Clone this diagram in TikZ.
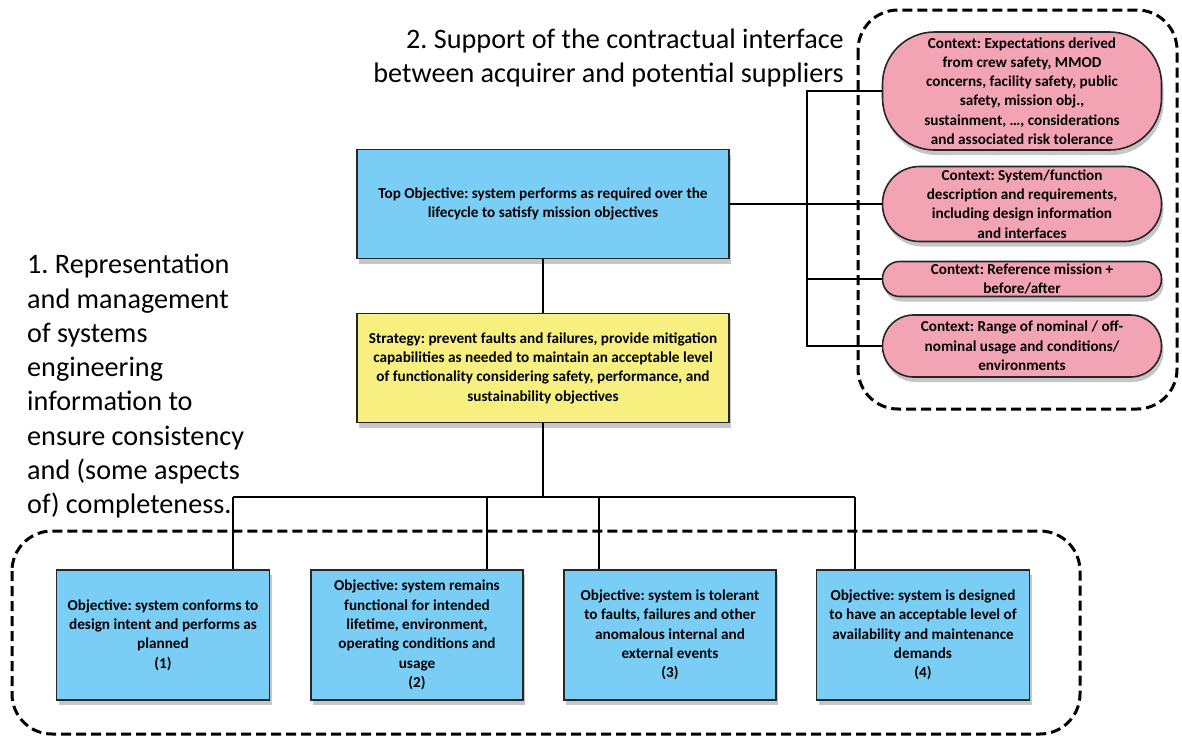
\documentclass[tikz,border=0pt]{standalone}
\usepackage{fontspec}
\setmainfont{Carlito}
\usetikzlibrary{shadows}
\frenchspacing

\definecolor{objblue}{RGB}{122,206,245}
\definecolor{stratyellow}{RGB}{247,239,128}
\definecolor{ctxpink}{RGB}{242,164,180}

\begin{document}
\begin{tikzpicture}[x=1pt,y=-1pt,
  goalbox/.style={draw=black!85,line width=1.6pt,fill=objblue,align=center,
    inner sep=2pt,font=\fontsize{15.2}{19.3}\selectfont\bfseries,
    drop shadow={opacity=0.45,shadow xshift=2pt,shadow yshift=-5pt}},
  ctxbox/.style={goalbox,fill=ctxpink,minimum width=279pt},
  link/.style={line width=1.3pt},
  group/.style={line width=3pt,dash pattern=on 10pt off 5pt,rounded corners=40pt},
  remark/.style={font=\fontsize{28.2}{34.3}\selectfont,inner sep=0pt}]

\useasboundingbox (0,0) rectangle (1182,736);

%\fill[gray!8] (0,0) rectangle (1182,10);

\draw[group] (858,10) rectangle (1177,409);
\draw[group] (12,531) rectangle (1080,734);

\node[goalbox,minimum width=372pt,minimum height=109pt] (top) at (543,204)
  {Top Objective: system performs as required over the\\lifecycle to satisfy mission objectives};
\node[goalbox,fill=stratyellow,minimum width=372pt,minimum height=109pt] (strat) at (543,368)
  {Strategy: prevent faults and failures, provide mitigation\\capabilities as needed to maintain an acceptable level\\of functionality considering safety, performance, and\\sustainability objectives};

\node[goalbox,minimum width=213pt,minimum height=130pt] (obj1) at (163,635)
  {Objective: system conforms to\\design intent and performs as\\planned\\(1)};
\node[goalbox,minimum width=212pt,minimum height=130pt] (obj2) at (417,635)
  {Objective: system remains\\functional for intended\\lifetime, environment,\\operating conditions and\\usage\\(2)};
\node[goalbox,minimum width=212pt,minimum height=130pt] (obj3) at (670,635)
  {Objective: system is tolerant\\to faults, failures and other\\anomalous internal and\\external events\\(3)};
\node[goalbox,minimum width=213pt,minimum height=130pt] (obj4) at (923,635)
  {Objective: system is designed\\to have an acceptable level of\\availability and maintenance\\demands\\(4)};

\node[ctxbox,rounded corners=52pt,minimum height=118pt] (ctx1) at (1022,91)
  {Context: Expectations derived\\from crew safety, MMOD\\concerns, facility safety, public\\safety, mission obj.,\\sustainment, \dots, considerations\\and associated risk tolerance};
\node[ctxbox,rounded corners=37pt,minimum height=75pt] (ctx2) at (1022,204)
  {Context: System/function\\description and requirements,\\including design information\\and interfaces};
\node[ctxbox,rounded corners=17pt,minimum height=35pt] (ctx3) at (1022,279)
  {Context: Reference mission +\\before/after};
\node[ctxbox,rounded corners=31pt,minimum height=62pt] (ctx4) at (1022,346)
  {Context: Range of nominal / off-\\nominal usage and conditions/\\environments};

\node[remark,anchor=east,align=right] (supp) at (844,58)
  {2. Support of the contractual interface\\between acquirer and potential suppliers};
\node[remark,anchor=north west,align=left] (repr) at (27,254)
  {1. Representation\\and management\\of systems\\engineering\\information to\\ensure consistency\\and (some aspects\\of) completeness.};

% tree below the strategy
\coordinate (busA) at (233,497);
\coordinate (busB) at (487,497);
\coordinate (busC) at (599,497);
\coordinate (busD) at (855,497);
\draw[link] (top) -- (strat);
\draw[link] (strat) -- (strat |- busA);
\draw[link] (busA) -- (busD);
\draw[link] (busA) -- (busA |- obj1.north);
\draw[link] (busB) -- (busB |- obj2.north);
\draw[link] (busC) -- (busC |- obj3.north);
\draw[link] (busD) -- (busD |- obj4.north);

% contexts
\coordinate (trT) at (807,91);
\coordinate (trB) at (807,346);
\draw[link] (top.east) -- (ctx2.west);
\draw[link] (ctx1.west) -- (trT) -- (trB) -- (ctx4.west);
\draw[link] (ctx3.west) -- (ctx3.west -| trT);

\end{tikzpicture}
\end{document}
